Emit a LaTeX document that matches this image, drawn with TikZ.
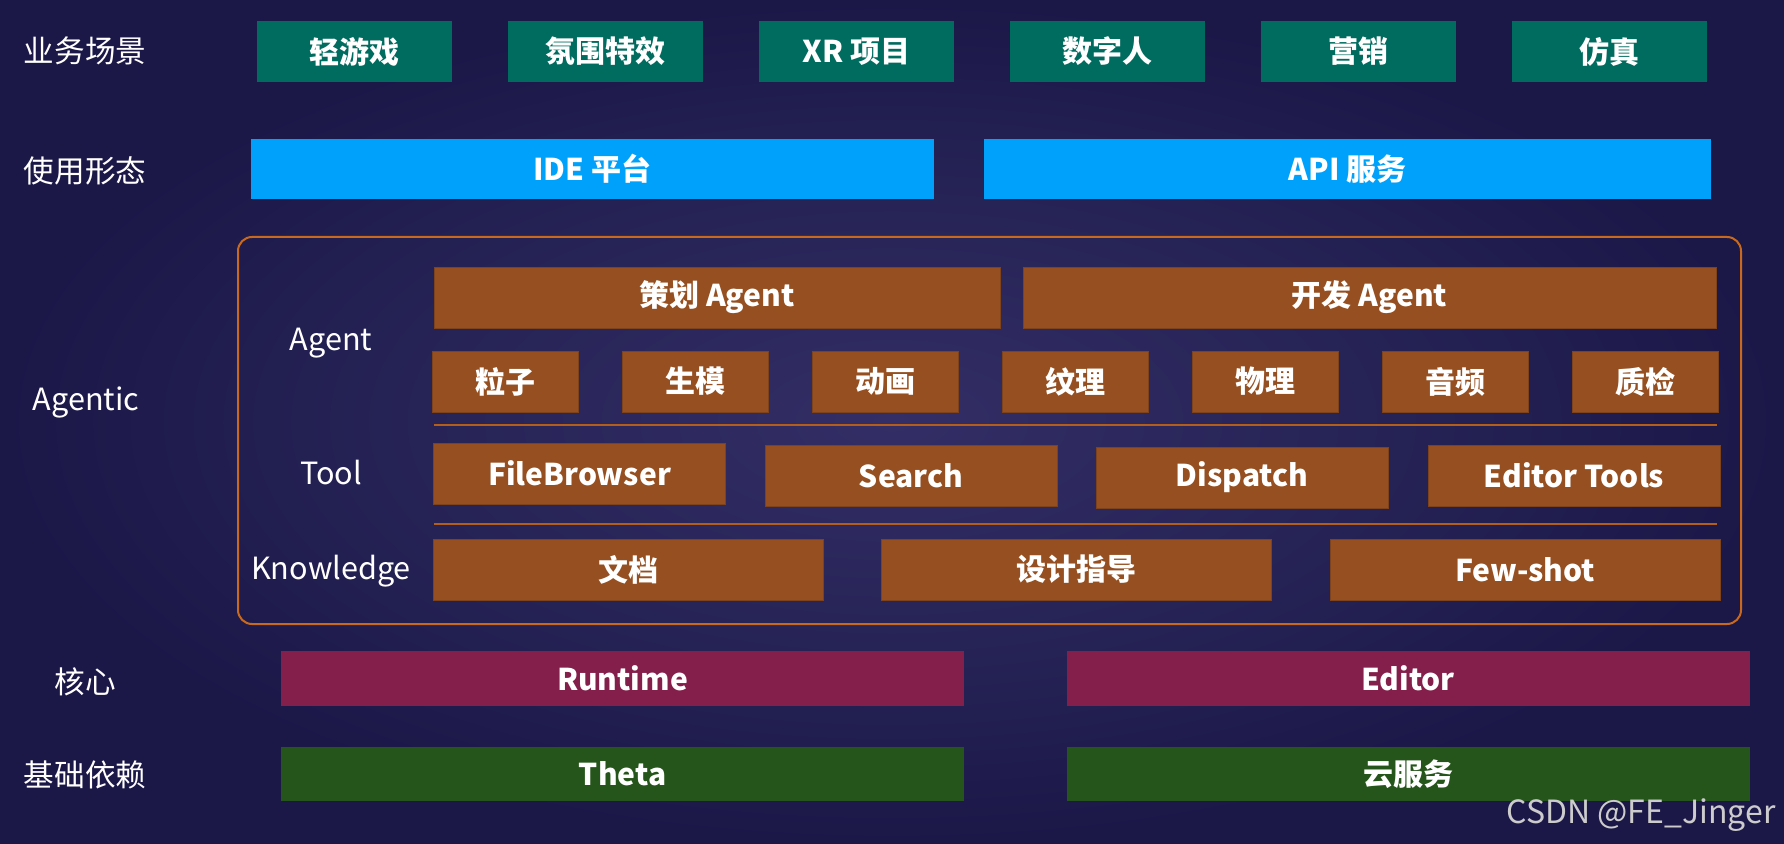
\documentclass[tikz,border=0pt]{standalone}
\usepackage{fontspec}
\setmainfont{Noto Sans CJK SC}
\usepackage{xcolor}
\usetikzlibrary{positioning}

\definecolor{bgin}{HTML}{332F66}
\definecolor{bgout}{HTML}{1B1848}
\definecolor{scenecol}{HTML}{006B5F}
\definecolor{formcol}{HTML}{00A1FA}
\definecolor{agentcol}{HTML}{954F20}
\definecolor{framecol}{HTML}{C8691E}
\definecolor{corecol}{HTML}{841F4B}
\definecolor{basecol}{HTML}{25551A}

\begin{document}
\begin{tikzpicture}[x=0.5pt, y=-0.5pt, node distance=28pt,
    block/.style={rectangle, inner sep=0pt, outer sep=0pt, text=white, font=\fontsize{15}{18}\selectfont\bfseries},
    layer/.style={text=white, font=\fontsize{15.3}{18}\selectfont},
    scene/.style={block, fill=scenecol, minimum width=97.5pt, minimum height=30.5pt},
    form/.style={block, fill=formcol, minimum height=30pt},
    agent/.style={block, fill=agentcol, draw=agentcol!85!black, line width=0.4pt, minimum height=30.5pt},
    skill/.style={agent, minimum width=73pt},
    tool/.style={agent, minimum width=146pt},
    know/.style={agent, minimum width=195pt},
    core/.style={block, fill=corecol, minimum width=341.5pt, minimum height=27.5pt},
    base/.style={block, fill=basecol, minimum width=341.5pt, minimum height=27pt},
    frame/.style={draw=framecol, line width=1pt, rounded corners=7pt},
    sep/.style={draw=framecol!90!black, line width=0.7pt}]

    \useasboundingbox (0,0) rectangle (1784,844);
    \shade [inner color=bgin, outer color=bgout] (0,0) rectangle (1784,844);

    \node [layer] (lscene) at (85,51) {业务场景};
    \node [scene] (qyx) at (354.5,51.5) {轻游戏};
    \node [scene, right=of qyx] (fwtx) {氛围特效};
    \node [scene, right=of fwtx] (xr) {XR 项目};
    \node [scene, right=of xr] (szr) {数字人};
    \node [scene, right=of szr] (yx) {营销};
    \node [scene, right=of yx] (fz) {仿真};

    \node [layer] (lform) at (85,171) {使用形态};
    \node [form, minimum width=341.5pt] (ide) at (592.5,169) {IDE 平台};
    \node [form, minimum width=363.5pt] (api) at (1347.5,169) {API 服务};

    \draw [frame] (238,237) rectangle (1741,624);
    \node [layer] (lagentic) at (86,402) {Agentic};
    \node [layer] (lagent) at (331,343) {Agent};
    \node [layer] (ltool) at (331,473) {Tool};
    \node [layer] (lknow) at (331,571) {Knowledge};

    \node [agent, minimum width=283pt] (chagent) at (717,297.5) {策划 Agent};
    \node [agent, minimum width=346.5pt] (kfagent) at (1369.5,297.5) {开发 Agent};
    \node [skill] (lz) at (505.5,381.5) {粒子};
    \node [skill, right=22pt of lz] (sm) {生模};
    \node [skill, right=22pt of sm] (dh) {动画};
    \node [skill, right=22pt of dh] (wl) {纹理};
    \node [skill, right=22pt of wl] (phys) {物理};
    \node [skill, right=22pt of phys] (yp) {音频};
    \node [skill, right=22pt of yp] (zj) {质检};
    \draw [sep] (434,425) -- (1717,425);

    \node [tool] (fb) at (579.5,473.5) {FileBrowser};
    \node [tool] (search) at (911,475.5) {Search};
    \node [tool] (dispatch) at (1242,477.5) {Dispatch};
    \node [tool] (edtools) at (1574,475.5) {Editor Tools};
    \draw [sep] (434,524) -- (1717,524);

    \node [know] (wd) at (628.5,569.5) {文档};
    \node [know] (sjzd) at (1076.5,569.5) {设计指导};
    \node [know] (fewshot) at (1525,569.5) {Few-shot};

    \node [layer] (lcore) at (85,682) {核心};
    \node [core] (runtime) at (622.5,678.5) {Runtime};
    \node [core] (editor) at (1408,678.5) {Editor};

    \node [layer] (lbase) at (85,775) {基础依赖};
    \node [base] (theta) at (622.5,774) {Theta};
    \node [base] (cloud) at (1408,774) {云服务};

    \node [text=gray!40, font=\fontsize{16}{18}\selectfont] (mark) at (1641,815) {CSDN @FE\_Jinger};
\end{tikzpicture}
\end{document}
